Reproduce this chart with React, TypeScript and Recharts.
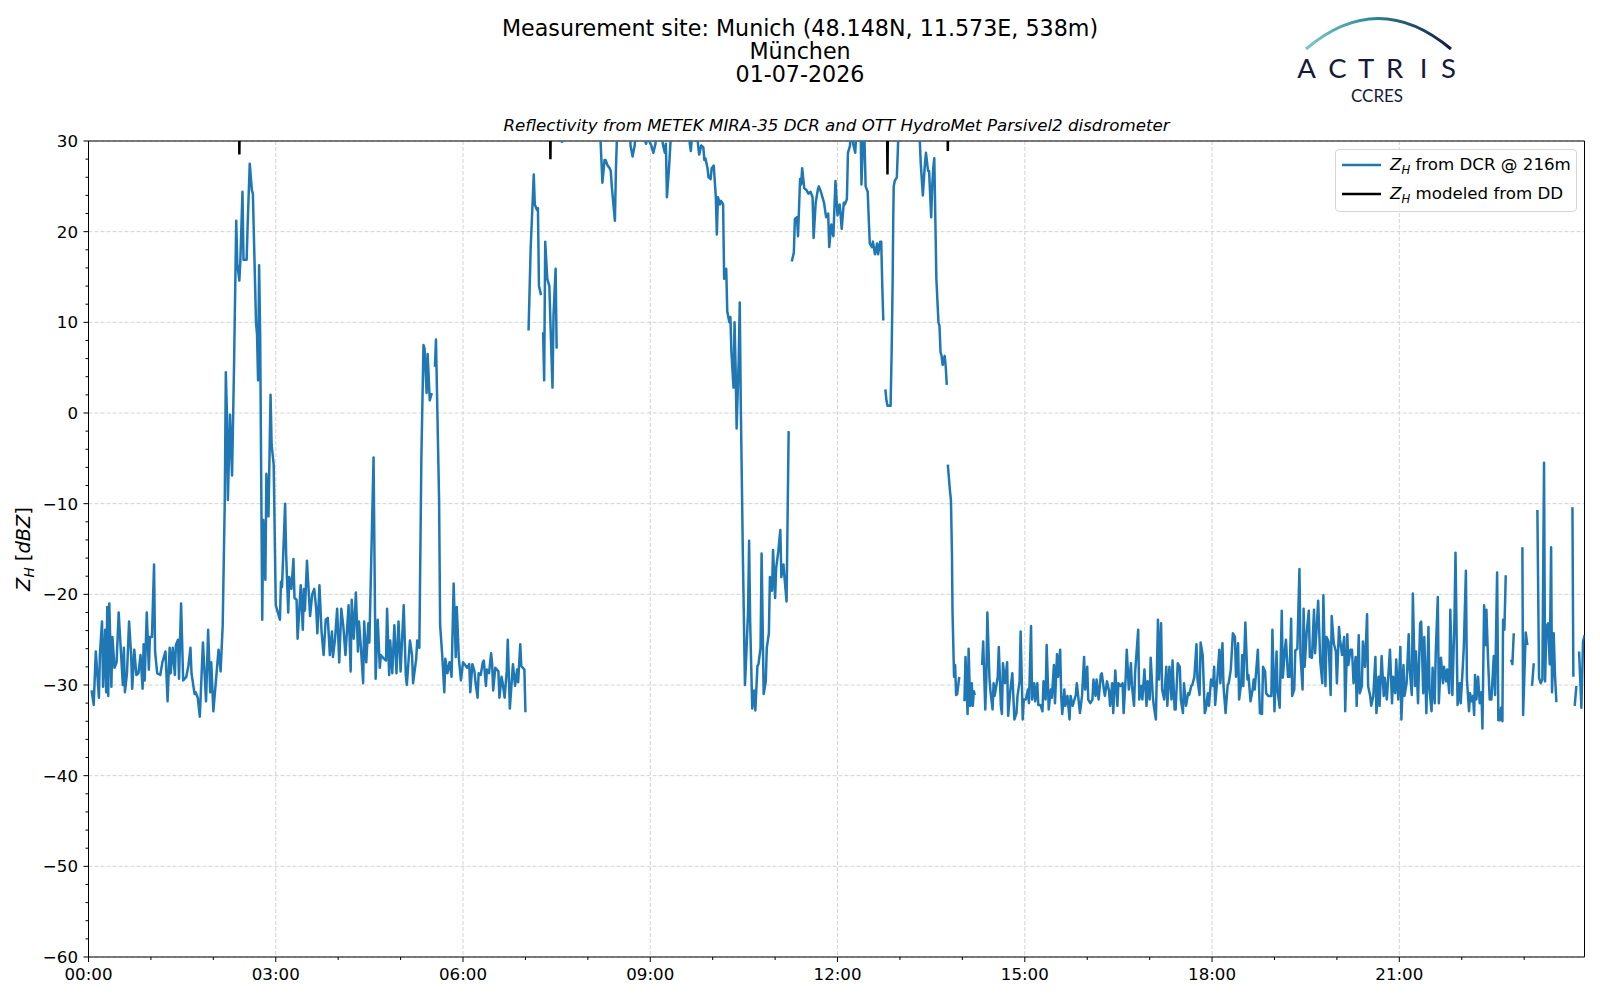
import React from 'react';
import { LineChart, Line, XAxis, YAxis, CartesianGrid, ReferenceArea } from 'recharts';

// ---------- axis ticks ----------
const xMajorTicks = [0, 180, 360, 540, 720, 900, 1080, 1260];
const xTickLabels = ['00:00', '03:00', '06:00', '09:00', '12:00', '15:00', '18:00', '21:00'];
const xMinorTicks = [60, 120, 240, 300, 420, 480, 600, 660, 780, 840, 960, 1020, 1140, 1200, 1320, 1380];
const yMajorTicks = [-60, -50, -40, -30, -20, -10, 0, 10, 20, 30];
const yTickLabels = ['\u221260', '\u221250', '\u221240', '\u221230', '\u221220', '\u221210', '0', '10', '20', '30'];
const yMinorTicks = [-58, -56, -54, -52, -48, -46, -44, -42, -38, -36, -34, -32, -28, -26, -24, -22, -18, -16, -14, -12, -8, -6, -4, -2, 2, 4, 6, 8, 12, 14, 16, 18, 22, 24, 26, 28];

// ---------- series: [minute of day, dBZ] (null = gap) ----------
type S = [number, number | null];

const dcrNight: S[] = [
  [3, -30.6], [5, -32.2], [7, -26.3], [10, -31.4], [11, -26.5], [13, -23], [14, -30.2], [16, -23.9], [17, -30.8], [18, -21.4],
  [19, -31.2], [20, -21], [22, -30.2], [23, -24.7], [25, -28.1], [27, -27.5], [29, -22], [33, -30], [34, -25.9], [35, -30.8],
  [37, -28.7], [39, -23], [41, -26.7], [42, -30.4], [44, -26.1], [46, -28.9], [48, -28.7], [50, -26.7], [52, -30.4], [53, -25.5],
  [54, -29.5], [56, -22], [58, -28.3], [59, -24.7], [61, -24.7], [63, -16.7], [64, -26.3], [66, -28.7], [69, -28.9], [71, -27.5],
  [74, -26.3], [76, -31.8], [78, -25.9], [79, -28.7], [81, -25.9], [83, -28.9], [84, -25.6], [86, -25], [87, -29.3], [89, -21],
  [91, -29.5], [94, -29.1], [96, -27.9], [98, -25.9], [99, -28.7], [102, -31], [103, -30.8], [105, -31.4], [107, -33.5], [110, -25.3],
  [113, -31.8], [115, -23.9], [117, -30.8], [118, -27.5], [120, -32.9], [125, -26.1], [127, -28.5], [129, -23.4], [131, -9.6], [132, 4.5],
  [133, 0.2], [134, -9.6], [136, -0.2], [138, -6.9], [140, 5.9], [142, 21.2], [143, 16.5], [145, 14.6], [146, 16.9], [148, 24.4],
  [149, 16.9], [152, 16.9], [153, 20.8], [155, 27.5], [157, 24.6], [158, 24.2], [161, 10], [162, 8.7], [163, 3.6], [164, 16.3],
  [165, 8.7], [167, -22.8], [168, -11.8], [170, -18.4], [171, -6.7], [173, -11.4], [175, 2], [176, -3.5], [178, -5.7], [180, -21.2],
  [184, -22.8], [185, -18.6], [186, -19.2], [189, -10], [190, -15.7], [192, -22], [193, -18.1], [195, -19.4], [197, -16.1], [198, -20.4],
  [200, -20.6], [201, -24.9], [203, -21], [204, -19], [206, -23.9], [207, -19.4], [208, -21.8], [210, -16.3], [213, -22.4], [215, -20],
  [217, -19.4], [219, -21.8], [220, -24.3], [222, -19], [224, -24.1], [226, -26.7], [228, -22.8], [230, -22.6], [232, -26.7], [234, -24.1],
  [235, -26.9], [237, -24.9], [239, -21.6], [241, -27.5], [243, -21.6], [245, -23.6], [247, -26.7], [249, -23], [250, -21.2], [252, -28.5],
  [253, -20.6], [255, -24.9], [257, -19.8], [259, -26.3], [260, -23], [262, -26.1], [264, -29.8], [265, -23], [267, -27.5], [269, -23.2],
  [270, -25.3], [274, -4.9], [276, -29.3], [278, -22.8], [280, -28.1], [281, -26.7], [284, -27.1], [286, -27.3], [287, -21.6], [289, -28.9],
  [290, -25.1], [292, -28.7], [294, -23.4], [296, -28.7], [298, -23], [300, -28.5], [303, -21.2], [305, -28.9], [306, -30], [309, -25.1],
  [311, -26.7], [312, -29.8], [315, -27.1], [316, -25.1], [318, -25.9], [320, -4.7], [322, 7.5], [323, 7.1], [325, 2.2], [326, 6.5],
  [328, 1.4], [330, 2.2], [331.5, null], [333, 5.1], [334, 8.1], [337, -9.6], [338, -23.4], [340, -26.7], [342, -30.8], [343, -27.1],
  [345, -28.7], [347, -27.5], [349, -29.1], [351, -18.8], [353, -26.9], [354, -21.4], [356, -27.1], [358, -29.5], [360, -27.5], [364, -28.1],
  [366, -27.7], [367, -30.8], [369, -27.7], [371, -28.5], [372, -29.7], [374, -31.4], [375, -28.7], [377, -28.9], [379, -27.5], [380, -27.3],
  [382, -30.1], [383, -28.3], [385, -28.7], [387, -26.5], [388, -27.7], [389, -30.6], [391, -28.1], [394, -28.5], [395, -31.4], [397, -29.1],
  [398, -29.7], [400, -31.4], [402, -28.5], [403, -25], [405, -32.6], [407, -29.3], [408, -27.7], [410, -30.1], [412, -28.3], [413, -29.7],
  [415, -25.5], [416, -27.9], [419, -28.3], [420, -33], [421.5, null],
];

const dcrMorning: S[] = [
  [423, 9.1], [425, 18.1], [428, 26.3], [429, 23], [431, 22.4], [432, 22.6], [433, 14], [435, 13], [436, null],
  [437, 8.9], [438, 3.6], [439, 18.9], [441, 14.8], [443, 14], [444, 10], [446, 2.8], [447, 10.8], [449, 15.9], [450, 7.1], [452, null],
  [455, 29.8], [457, 34], [490, 34], [492, 30.5], [494, 25.4], [496, 27.9], [497, 27.9], [499, 27.3], [501, 27], [502, 26.7],
  [503, 25], [506, 21.2], [507, 27], [508, 30.5], [510, 34], [520, 33], [521, 29.5], [523, 28.3], [525, 29.5], [527, 33],
  [533, 33], [535, 30], [536, 29.7], [538, 31], [539, 30], [541, 29.5], [543, 28.7], [545, 29.7], [547, 33], [550, 33],
  [552, 29.7], [554, 28.7], [555, 29.7], [556, 23.8], [558, 27], [559, 29], [561, 33], [576, 33], [578, 29.7], [579, 28.9],
  [581, 32], [584, 32], [586, 29.5], [587, 28.5], [589, 29.5], [591, 29.3], [592, 27.9], [593, 28.1], [595, 27], [596, 26],
  [598, 25.8], [599, 27], [601, 27.3], [603, 23.8], [604, 19.7], [605, 23.8], [607, 23], [608, 23.4], [610, 23], [611, 14.8],
  [613, 15.9], [614, 11.2], [616, 10], [617, 10.6], [618, 6.7], [620, 2.8], [621, 10], [622, 5.1], [623, -1.7], [625, 5.9],
  [626, 12.2], [627, 0.9], [629, -15.7], [631, -30], [632, -27.5], [634, -21.8], [635, -14.1], [636, -23], [638, -32.6], [640, -30.6],
  [641, -32.8], [643, -27.9], [644, -27.7], [646, -25.9], [647, -15.5], [649, -31], [651, -29.6], [652, -25.9], [654, -24.3], [655, -18.1],
  [657, -19.6], [658, -15.1], [660, -20.4], [661, -17.1], [663, -15.3], [665, -12.9], [666, -18.1], [668, -16.7], [669, -18.1], [671, -20.8],
  [673, -2], [674.5, null],
];

const dcrNoon: S[] = [
  [676, 16.7], [678, 17.7], [679, 21.4], [681, 21.6], [682, 19.5], [684, 25.8], [685, 25.2], [686, 27], [688, 24.8], [690, 24.6],
  [692, 24.2], [694, 24.4], [696, 23.8], [697, 19.3], [699, 23.2], [701, 24.6], [702, 25], [704, 24.4], [707, 23.2], [709, 21.6],
  [711, 22], [712, 18.3], [714, 20.8], [716, 19.5], [717, 22.6], [718, 25.6], [720, 21.8], [722, 23], [723, 21.8], [724, 20.3],
  [726, 23.2], [727, 23], [729, 23.6], [730, 28.7], [732, 29.5], [733, 32], [735, 29.7], [737, 28.7], [739, 33], [742, 33],
  [743, 25.2], [745, 32], [746, 29.7], [747, 25], [749, 24.4], [750, 21.4], [751, 18.7], [753, 18.3], [754, 18.9], [756, 17.5],
  [758, 18.7], [759, 17.5], [761, 18.9], [762, 18.9], [763, 14], [764, 10.2], [765, null],
  [766, 2.6], [767, 1.4], [768, 0.8], [771, 0.8], [772, 6.7], [773, 14.8], [773.5, 21], [774, 25], [775, 25.6], [777, 26],
  [778, 29.1], [779, 33], [798, 33], [800, 27.5], [802, 24], [804, 27.5], [805, 28.7], [807, 26.7], [808, 26.7], [810, 21.6],
  [811, 25], [812, 27], [813, 28.1], [814, 21.4], [815, 14.8], [817, 10], [818, 9.6], [819, 6.7], [820, 6.3], [821, 5.3],
  [823, 6.3], [824, 5.1], [825, 3.1], [825.5, null],
  [826, -5.7], [828, -8.5], [829, -9.6], [830, -15.7], [830.5, -21.8], [832, -29.1], [833, -27.8], [834, -31.1], [835, -31], [837, -29.1],
  [839, null],
];

const dcrAfternoon: S[] = [
  [842, -31.8], [843, -26.9], [845, -33.2], [846, -26], [847.5, -32.3], [849, -29.8], [850, -32.3], [851, -30.7], [852, -31.1], [855, null],
  [859, -27.8], [860, -25.2], [862, -32.7], [863, -29.4], [864, -22], [866, -29.2], [867, -30.7], [869, -32.7], [870, -29.8], [871, -31.2],
  [873, -29.8], [874, -29.1], [875, -25.8], [877, -32.3], [878, -33.2], [879, -27.6], [881, -29.8], [883, -27.5], [884, -33.4], [886, -30.7],
  [888, -28.7], [890, -33.8], [892, -33.1], [893, -31.2], [895, -29.6], [896, -24.1], [898, -33.8], [899, -31.6], [901, -31.6], [903, -30.5],
  [904, -32], [906, -23.5], [907, -31.6], [909, -29.8], [910, -31.8], [912, -29.8], [913, -32.2], [915, -32.2], [917, -32.9], [918, -29.6],
  [920, -31.6], [921, -25.6], [923, -32.7], [925, -30.5], [926, -31.4], [928, -27.8], [929, -32], [931, -26.6], [932, -29.1], [934, -26.1],
  [935, -31.2], [936, -33.2], [938, -30.5], [939, -32.3], [941, -31.2], [943, -33.8], [944, -31.2], [946, -32.3], [949, -31.1], [950, -29.8],
  [952, -32], [953, -33.1], [955, -31.2], [957, -26.9], [958, -30.5], [960, -28], [961, -31.6], [963, -32], [965, -31.6], [966, -29.4],
  [968, -31.2], [969, -29.4], [971, -31.6], [973, -28.9], [974, -28.7], [976, -30.5], [977, -31.2], [979, -29.6], [981, -30.7], [982, -32.3],
  [984, -29.8], [985, -33.1], [987, -28.4], [989, -32.3], [990, -29.8], [992, -30.1], [994, -29.8], [995, -33.1], [997, -29.1], [998, -26.1],
  [1000, -30.5], [1002, -27.6], [1003, -30.1], [1005, -32.3], [1006, -28.7], [1009, -23.9], [1010, -31.6], [1012, -30.1], [1013, -31.6], [1015, -28.3],
  [1017, -32.3], [1018, -29.6], [1020, -31.6], [1021, -27], [1023, -31.2], [1024, -32.3], [1026, -33.8], [1028, -22.8], [1029, -29.4], [1031, -23.2],
  [1032, -30.5], [1034, -31.6], [1036, -28], [1037, -32.3], [1039, -28], [1041, -31.6], [1042, -27.3], [1044, -32.7], [1045, -32.7], [1047, -27.6],
  [1049, -28], [1050, -31.6], [1052, -33.1], [1053, -29.8], [1055, -32.3], [1057, -30.9], [1058, -31.1], [1060, -30.1], [1061, -30], [1063, -29.1],
  [1065, -25.5], [1066, -29.4], [1068, -31.1], [1069, -25.3], [1071, -26.7], [1073, -33.1], [1074, -32.7], [1076, -30.9], [1077, -32.3], [1079, -29.4],
  [1081, -30.1], [1082, -28], [1083, -32.2], [1085, -29.4], [1087, -26.1], [1088, -29.8], [1090, -25.4], [1091, -30.1], [1093, -33.1], [1095, -30],
  [1096, -29.8], [1098, -28.3], [1100, -24.3], [1102, -24.7], [1103, -29.1], [1105, -25.4], [1106, -31.6], [1108, -29.8], [1109, -26.7], [1110, -30.1],
];

const dcrEvening: S[] = [
  [1112, -23.1], [1114, -29.4], [1115, -28.9], [1117, -31.8], [1119, -30.5], [1120, -29.4], [1121, -30.5], [1123, -27.6], [1124, -26.1], [1126, -33.1],
  [1128, -33.2], [1129, -28], [1131, -28.5], [1132, -30.9], [1134, -31.2], [1135.5, -31.2], [1137, -31.2], [1138, -23.9], [1140, -32.9], [1142, -26.3],
  [1143, -30.7], [1145, -32.5], [1147, -21.8], [1148, -29.2], [1150, -26.1], [1151, -25], [1153, -29.1], [1154.5, -29.1], [1156, -22.7], [1157, -31.2],
  [1159, -30.5], [1160, -26.2], [1162, -26], [1164, -17.2], [1165, -26.7], [1167, -30.5], [1168, -21.6], [1169, -28], [1171, -24.1], [1173, -21.8],
  [1174, -26.9], [1176, -27], [1178, -21.7], [1179, -26.5], [1181, -22.8], [1182, -20.7], [1184, -27.4], [1186, -29.8], [1187, -20.1], [1189, -30.1],
  [1190, -24.7], [1192, -25.2], [1194, -31.1], [1195, -22.4], [1197, -25.4], [1199, -26.3], [1200, -29.8], [1202, -23.6], [1203, -25], [1205, -26.7],
  [1207, -24.7], [1208, -32.9], [1210, -24.4], [1211, -27.8], [1213, -26.1], [1214.5, -26.1], [1216, -29.8], [1218, -26.9], [1219, -32.3], [1221, -24.5],
  [1222, -30.9], [1224, -30.1], [1225, -25.2], [1227, -28], [1229, -22.2], [1230, -30.1], [1232, -31.2], [1233, -32.3], [1235, -31.2], [1237, -26.9],
  [1238, -33.1], [1240, -29.1], [1241, -32.3], [1243, -26.8], [1245, -31.2], [1246, -29.2], [1248, -31.6], [1249, -29.8], [1251, -26.1], [1253, -32],
  [1254, -29.1], [1256, -30.9], [1257, -27.2], [1259, -31.6], [1261, -25.8], [1262, -33.8], [1264, -27.8], [1265, -31.2], [1267, -29.8], [1269, -24.4],
  [1270, -28.3], [1272, -31.1], [1273, -19.9], [1275, -30.1], [1276, -26.3], [1278, -32], [1280, -23.2], [1281, -23], [1283, -30.9], [1284, -24.7],
  [1286, -33.1], [1288, -23.6], [1289, -30.5], [1291, -32.9], [1292, -28.1], [1294, -32], [1295, -26.5], [1297, -20.3], [1298, -32], [1300, -27],
  [1302, -29.8], [1303, -28], [1305, -29.6], [1306, -28.3], [1308, -30.9], [1309, -21.7], [1311, -31.1], [1313, -22.8], [1314, -15.4], [1316, -32.2],
  [1318, -29.8], [1319, -32], [1321, -28], [1322, -25.8], [1324, -17.4], [1325, -29.4], [1327, -32.9], [1328, -30.9], [1329.3, -31.8], [1330.9, -31.2],
  [1331.9, -33.3], [1332.8, -28.9], [1334.1, -31.6], [1335.7, -29.1], [1337.3, -32], [1338.9, -30.8], [1339.9, -34.8], [1341.5, -21.2], [1342.8, -25.6], [1343.7, -21.7],
  [1345.3, -27.2], [1346.9, -31.6], [1348.5, -31.6], [1350.8, -26.8], [1352, -31.1], [1354, -17.6], [1355.2, -33.9], [1356.5, -33.9], [1357.8, -32.5], [1359.1, -34],
  [1359.7, -22.8], [1361, -23.9], [1362.3, -17.9], [1364, null],
  [1367.4, -27.2], [1368.7, -27.7], [1370, -24.3], [1374, null],
  [1378.3, -14.8], [1379, -33.3], [1381.5, -24.2], [1383.1, -25.6], [1385, null],
  [1387.6, -30.1], [1389.2, -27.6], [1391, null],
  [1392.7, -10.7], [1394.3, -29.2], [1395.9, -29.8], [1397.5, -29.4], [1399.1, -5.5], [1400.1, -29.6], [1401.4, -23.6], [1403, -23.2], [1404.6, -27.7], [1405.9, -14.8],
  [1406.8, -30.8], [1408.4, -24.3], [1409.7, -29.1], [1411, -31.9], [1418, null],
  [1426.4, -10.4], [1427.3, -29.1], [1428, null],
  [1428.6, -32.3], [1430.2, -30.1], [1431.5, null],
  [1432.8, -26.3], [1435, -32.5], [1436.6, -25.2], [1438.2, -24.5],
];

const ddSamples: S[] = [
  [144, 40], [145, 28.5], [146, 40], [147, null],
  [443, 40], [444, 28], [445, 40], [446, null],
  [767, 40], [768, 26.3], [769, 40], [770, null],
  [825, 40], [826, 28.9], [827, 40],
];

const dcrData = [...dcrNight, ...dcrMorning, ...dcrNoon, ...dcrAfternoon, ...dcrEvening].map(([t, v]) => ({ t, v }));
const ddData = ddSamples.map(([t, v]) => ({ t, v }));

const xAllTicks = [...xMajorTicks, ...xMinorTicks].sort((a, b) => a - b);
const yAllTicks = [...yMajorTicks, ...yMinorTicks].sort((a, b) => a - b);

const FONT = '"DejaVu Sans", sans-serif';
const LOGO_FONT = "Lato, 'Open Sans', sans-serif";
const BLUE = '#1f77b4';
const NAVY = '#141a3c';
const LW = 2.5;

const XTick = (props: any) => {
  const { x, y, payload } = props;
  const v = payload.value as number;
  const idx = xMajorTicks.indexOf(v);
  const major = idx >= 0;
  return (
    <g>
      <line x1={x} x2={x} y1={y} y2={y + (major ? 5 : 3)} stroke="#000" strokeWidth={1} />
      {major && (
        <text x={x} y={y + 23} textAnchor="middle" fontSize={16.67} fontFamily={FONT} fill="#000">
          {xTickLabels[idx]}
        </text>
      )}
    </g>
  );
};

const YTick = (props: any) => {
  const { x, y, payload } = props;
  const v = payload.value as number;
  const idx = yMajorTicks.indexOf(v);
  const major = idx >= 0;
  return (
    <g>
      <line x1={x - (major ? 5 : 3)} x2={x} y1={y} y2={y} stroke="#000" strokeWidth={1} />
      {major && (
        <text x={x - 10.5} y={y + 6} textAnchor="end" fontSize={16.67} fontFamily={FONT} fill="#000">
          {yTickLabels[idx]}
        </text>
      )}
    </g>
  );
};

const legendItems = [
  { color: BLUE, text: ' from DCR @ 216m' },
  { color: '#000', text: ' modeled from DD' },
];

const logoLetters = ['A', 'C', 'T', 'R', 'I', 'S'];
const logoLetterX = [1306.5, 1337.5, 1366, 1394.5, 1423.5, 1448.5];

export default function App() {
  return (
    <div style={{ position: 'absolute', left: 0, top: 0, width: 1600, height: 1000, background: '#fff', overflow: 'hidden' }}>
      <LineChart width={1600} height={1000} margin={{ top: 141, right: 15.5, bottom: 0, left: 0 }}>
        <CartesianGrid
          stroke="#d3d3d3"
          strokeWidth={1}
          strokeDasharray="4 2"
          horizontalValues={yMajorTicks}
          verticalValues={xMajorTicks}
        />
        <XAxis
          type="number"
          dataKey="t"
          domain={[0, 1438]}
          allowDataOverflow
          ticks={xAllTicks}
          interval={0}
          tickLine={false}
          axisLine={false}
          tickSize={0}
          tickMargin={0}
          height={43}
          tick={<XTick />}
        />
        <YAxis
          type="number"
          domain={[-60, 30]}
          allowDataOverflow
          ticks={yAllTicks}
          interval={0}
          tickLine={false}
          axisLine={false}
          tickSize={0}
          tickMargin={0}
          width={88.5}
          tick={<YTick />}
        />
        <Line
          data={dcrData}
          dataKey="v"
          type="linear"
          stroke={BLUE}
          strokeWidth={LW}
          strokeLinejoin="round"
          dot={false}
          activeDot={false}
          connectNulls={false}
          isAnimationActive={false}
        />
        <Line
          data={ddData}
          dataKey="v"
          type="linear"
          stroke="#000"
          strokeWidth={LW}
          dot={false}
          activeDot={false}
          connectNulls={false}
          isAnimationActive={false}
        />
        <ReferenceArea x1={0} x2={1438} y1={-60} y2={30} fill="none" fillOpacity={0} stroke="#000" strokeWidth={1} ifOverflow="visible" />
      </LineChart>

      <svg width={1600} height={1000} style={{ position: 'absolute', left: 0, top: 0, pointerEvents: 'none' }}>
        <defs>
          <linearGradient id="arcGrad" x1="0" y1="0" x2="1" y2="0">
            <stop offset="0%" stopColor="#7cc8c6" />
            <stop offset="45%" stopColor="#2c8a95" />
            <stop offset="100%" stopColor="#151a45" />
          </linearGradient>
          <linearGradient id="barGrad" x1="0" y1="0" x2="0" y2="1">
            <stop offset="0%" stopColor="#c8cad6" />
            <stop offset="100%" stopColor="#151a45" />
          </linearGradient>
        </defs>
        <g fontFamily={FONT} fill="#000">
          <text x={800} y={36} textAnchor="middle" fontSize={22.2}>Measurement site: Munich (48.148N, 11.573E, 538m)</text>
          <text x={800} y={59} textAnchor="middle" fontSize={22.2}>München</text>
          <text x={800} y={82} textAnchor="middle" fontSize={22.2}>01-07-2026</text>
          <text x={836.5} y={131} textAnchor="middle" fontSize={16.67} fontStyle="italic">
            Reflectivity from METEK MIRA-35 DCR and OTT HydroMet Parsivel2 disdrometer
          </text>
          <text x={29.5} y={549} textAnchor="middle" fontSize={19.4} transform="rotate(-90 29.5 549)">
            <tspan fontStyle="italic">Z</tspan>
            <tspan fontStyle="italic" fontSize={13.6} dy={4}>H</tspan>
            <tspan dy={-4}> [</tspan>
            <tspan fontStyle="italic">dBZ</tspan>
            <tspan>]</tspan>
          </text>
        </g>
        <g>
          <path d="M1306 49 Q1378 -12 1451 49" fill="none" stroke="url(#arcGrad)" strokeWidth={3} />
          <line x1={1423.5} x2={1423.5} y1={2} y2={52} stroke="url(#barGrad)" strokeWidth={2} />
          <g fontFamily={LOGO_FONT} fontSize={27.5} fill={NAVY} textAnchor="middle">
            {logoLetters.map((ch, i) => (
              <text key={ch} x={logoLetterX[i]} y={78}>{ch}</text>
            ))}
          </g>
          <text x={1377} y={101.5} textAnchor="middle" fontFamily={LOGO_FONT} fontSize={17} fill={NAVY}>CCRES</text>
        </g>
      </svg>

      <div
        style={{
          position: 'absolute',
          left: 1335,
          top: 149,
          width: 242,
          height: 63,
          boxSizing: 'border-box',
          border: '1px solid #d6d6d6',
          borderRadius: 4,
          background: 'rgba(255,255,255,0.8)',
          fontFamily: FONT,
          fontSize: 16.67,
          color: '#000',
        }}
      >
        {legendItems.map((it, i) => (
          <div key={i} style={{ position: 'absolute', left: 0, top: i === 0 ? 4 : 33, height: 22, display: 'flex', alignItems: 'center', whiteSpace: 'nowrap' }}>
            <svg width={50} height={22} style={{ display: 'block' }}>
              <line x1={6} x2={45} y1={11} y2={11} stroke={it.color} strokeWidth={LW} />
            </svg>
            <span style={{ marginLeft: 4, lineHeight: '22px' }}>
              <span style={{ fontStyle: 'italic' }}>Z</span>
              <span style={{ fontStyle: 'italic', fontSize: '0.7em', position: 'relative', top: 4 }}>H</span>
              {it.text}
            </span>
          </div>
        ))}
      </div>
    </div>
  );
}
